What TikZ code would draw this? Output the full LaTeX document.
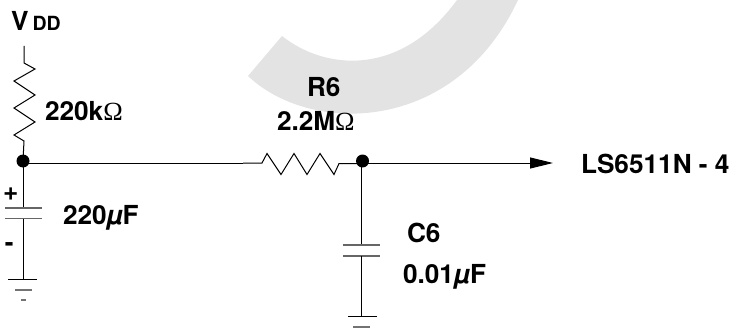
\documentclass[tikz,border=0pt]{standalone}
\usepackage{fontspec}
\setmainfont{TeX Gyre Heros}
\newfontfamily\symfont{Liberation Serif}
\usetikzlibrary{arrows.meta}
\newcommand{\ohm}{{\symfont\fontseries{m}\selectfont Ω}}
\newcommand{\micro}{{\bfseries\itshape µ}}
\tikzset{
  x=1pt,y=-1pt,
  wire/.style={draw=black,line width=1pt,line join=miter},
  plate/.style={draw=black!60,line width=1.2pt},
  gnd/.style={draw=black,line width=1pt},
  gndb/.style={draw=black!55,line width=1.2pt},
  dotj/.style={circle,fill=black,inner sep=0pt,minimum size=13pt},
  lab/.style={anchor=base west,inner sep=0pt,outer sep=0pt,font=\fontsize{26.2}{30}\selectfont\bfseries},
}
\begin{document}
\begin{tikzpicture}
\useasboundingbox (0,0) rectangle (730,334);
\begin{scope}
\clip (0,0) rectangle (730,334);
\fill[black!11] (282,36) .. controls (325,70) and (400,78) .. (457,0) -- (518,0)
  .. controls (455,135) and (310,135) .. (248,76) -- cycle;
\end{scope}
% junctions
\node[dotj] (j1) at (23,161) {};
\node[dotj] (j2) at (362.5,161) {};
\coordinate (vtop) at (24,46);
\coordinate (t1) at (243,163);
\coordinate (rl) at (262,163);
\coordinate (rr) at (339,163.5);
\coordinate (out) at (553,163);
\coordinate (c1t) at (23.5,208);
\coordinate (c1b) at (23.5,218.5);
\coordinate (g1) at (23.5,279);
\coordinate (c2t) at (361.5,245);
\coordinate (c2b) at (361.5,256);
\coordinate (g2) at (361.5,316);
% R upper
\draw[wire] (vtop) -- (24,63) -- (35,69) -- (14,81) -- (35,95) -- (14,108) -- (35,122) -- (14,135) -- (24,141) -- (j1.center);
% horizontal
\draw[wire] (j1.center |- t1) -- (t1);
\draw[wire] (t1) -- (rl) -- (267,153.5) -- (281,174.5) -- (294,153.5) -- (307,174.5) -- (320,153.5) -- (334,174.5) -- (rr) -- (j2.center |- rr);
\draw[wire,-{Triangle[length=23pt,width=11pt,black]}] (j2.center |- out) -- (out);
% C1
\draw[wire] (j1.center -| c1t) -- (c1t);
\draw[plate] (5,208) -- (42,208);
\draw[plate] (5,218.5) -- (42,218.5);
\draw[wire] (c1b) -- (g1);
\draw[gnd] (8,279) -- (37,279);
\draw[gndb] (15,290) -- (32,290);
\draw[gndb] (21,300) -- (26,300);
% C2
\draw[wire] (j2.center -| c2t) -- (c2t);
\draw[plate] (343,245) -- (380,245);
\draw[plate] (343,256) -- (380,256);
\draw[wire] (c2b) -- (g2);
\draw[gnd] (348,316) -- (377,316);
\draw[gndb] (353,327) -- (370,327);
% labels
\node[lab] (vv) at (11,31) {V};
\node[lab,font=\fontsize{19.5}{22}\selectfont\bfseries] (vd) at (32.5,31) {DD};
\node[lab] (r1) at (45,121) {220k\ohm};
\node[lab] (r6) at (307,97) {R6};
\node[lab] (r6v) at (277,131) {2.2M\ohm};
\node[lab] (pl) at (3,200) {+};
\node[lab] (mi) at (5,251) {-};
\node[lab] (c1v) at (63,224) {220\micro F};
\node[lab] (c6) at (407,242) {C6};
\node[lab] (c6v) at (403,283) {0.01\micro F};
\node[lab] (ls) at (581,173) {LS6511N - 4};
\end{tikzpicture}
\end{document}
